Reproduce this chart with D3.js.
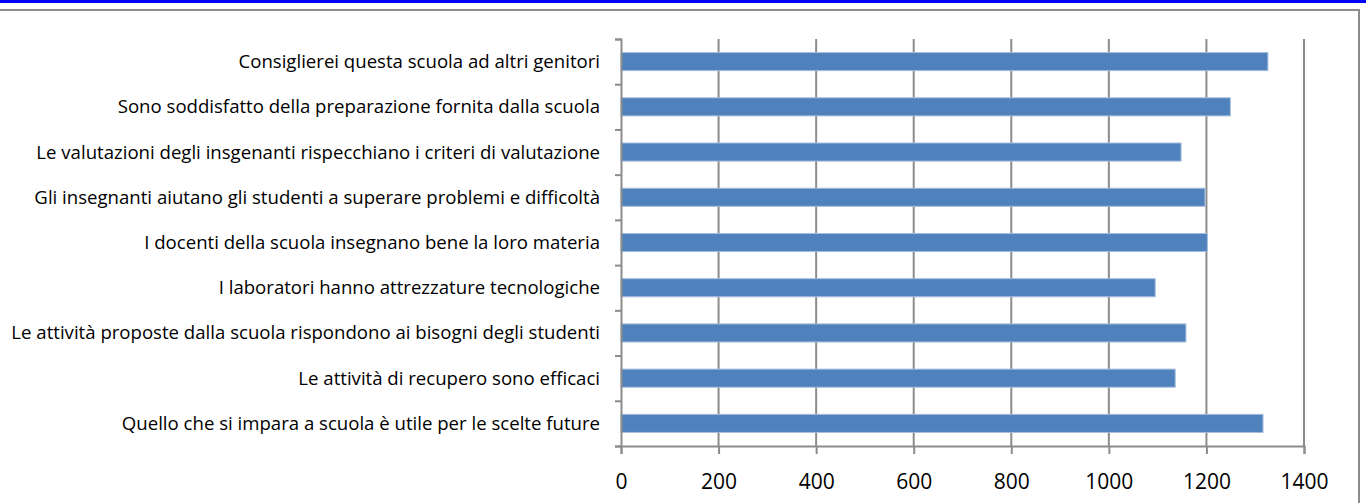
<!DOCTYPE html>
<html>
<head>
<meta charset="utf-8">
<script src="https://d3js.org/d3.v7.min.js"></script>
<style>
  body { margin: 0; background: #fff; }
  svg { display: block; }
</style>
</head>
<body>
<div id="chart"></div>
<script>
// categories, top to bottom as shown
var categories = [
  'Consiglierei questa scuola ad altri genitori',
  'Sono soddisfatto della preparazione fornita dalla scuola',
  'Le valutazioni degli insgenanti rispecchiano i criteri di valutazione',
  'Gli insegnanti aiutano gli studenti a superare problemi e difficoltà',
  'I docenti della scuola insegnano bene la loro materia',
  'I laboratori hanno attrezzature tecnologiche',
  'Le attività proposte dalla scuola rispondono ai bisogni degli studenti',
  'Le attività di recupero sono efficaci',
  'Quello che si impara a scuola è utile per le scelte future'
];
var values = [1326, 1249, 1148, 1197, 1202, 1095, 1158, 1136, 1316];
var ticks = [0, 200, 400, 600, 800, 1000, 1200, 1400];

var W = 1366, H = 503;
var margin = {top: 39, left: 621, right: 62, bottom: 57};
var width = W - margin.left - margin.right,
    height = H - margin.top - margin.bottom;

var svg = d3.select('#chart').append('svg')
    .attr('width', W)
    .attr('height', H);

// frame bits
svg.append('rect').attr('x', 0).attr('y', 0).attr('width', W).attr('height', 3).attr('fill', '#0000ff');
svg.append('line').attr('x1', 0).attr('x2', 1360).attr('y1', 10).attr('y2', 10)
    .attr('stroke', '#8c8c8c').attr('stroke-width', 2);
svg.append('line').attr('x1', 1359).attr('x2', 1359).attr('y1', 9).attr('y2', H)
    .attr('stroke', '#8c8c8c').attr('stroke-width', 2);

var x = d3.scaleLinear().domain([0, 1400]).range([0, width]);
var y = d3.scaleBand().domain(categories).range([0, height]).paddingInner(0.6).paddingOuter(0.3);
var yb = d3.scaleLinear().domain([0, categories.length]).range([0, height]);

var g = svg.append('g').attr('transform', 'translate(' + margin.left + ',' + margin.top + ')');

// gridlines
g.selectAll('.grid').data(ticks.slice(1)).enter().append('line')
    .attr('x1', function(d){ return x(d); })
    .attr('x2', function(d){ return x(d); })
    .attr('y1', 0).attr('y2', height)
    .attr('stroke', '#8c8c8c').attr('stroke-width', 2);

// bars
g.selectAll('rect.bar').data(values).enter().append('rect')
    .attr('class', 'bar')
    .attr('x', x(0))
    .attr('y', function(d, i){ return y(categories[i]); })
    .attr('width', function(d){ return x(d) - x(0); })
    .attr('height', y.bandwidth())
    .attr('fill', '#4f81bd')
    .attr('stroke', '#a7bedd')
    .attr('stroke-width', 1);

// left axis with ticks at category boundaries
var vAxis = d3.axisLeft(yb).tickValues(d3.range(0, categories.length + 1)).tickSize(6).tickFormat('');
var vGuide = g.append('g').call(vAxis);
vGuide.selectAll('path').attr('stroke', '#8c8c8c').attr('stroke-width', 2);
vGuide.selectAll('line').attr('stroke', '#8c8c8c').attr('stroke-width', 2);

// category labels
g.selectAll('text.cat').data(categories).enter().append('text')
    .attr('class', 'cat')
    .attr('x', -21)
    .attr('y', function(d){ return y(d) + y.bandwidth() / 2; })
    .attr('dy', '0.35em')
    .attr('text-anchor', 'end')
    .style('font-family', '"Open Sans", sans-serif')
    .style('font-size', '18.6px')
    .style('fill', '#000')
    .text(function(d){ return d; });

// bottom axis
var hAxis = d3.axisBottom(x).tickValues(ticks).tickSize(8).tickPadding(20).tickFormat(d3.format('d'));
var hGuide = g.append('g').attr('transform', 'translate(0,' + height + ')').call(hAxis);
hGuide.selectAll('path').attr('stroke', '#8c8c8c').attr('stroke-width', 2);
hGuide.selectAll('line').attr('stroke', '#8c8c8c').attr('stroke-width', 2);
hGuide.selectAll('text')
    .style('font-family', '"Open Sans", sans-serif')
    .style('font-size', '21px')
    .style('fill', '#000');
</script>
</body>
</html>
